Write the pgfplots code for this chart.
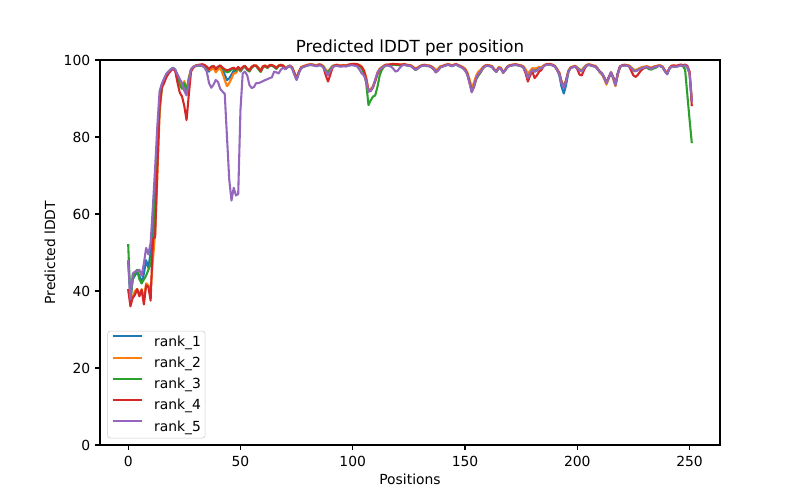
\documentclass[border=0pt]{standalone}
\usepackage{fontspec}
\setmainfont{DejaVu Sans}
\usepackage{pgfplots}
\usepackage{pgfplotstable}
\pgfplotsset{compat=1.18}
\definecolor{c0}{HTML}{1F77B4}
\definecolor{c1}{HTML}{FF7F0E}
\definecolor{c2}{HTML}{2CA02C}
\definecolor{c3}{HTML}{D62728}
\definecolor{c4}{HTML}{9467BD}
\pgfplotstableread{
x r1 r2 r3 r4 r5
0 47.5 40.5 52.2 40.5 48.0
1 38.0 37.0 37.5 36.0 37.8
2 43.0 38.5 43.0 38.2 44.5
3 44.0 40.0 44.8 39.0 45.0
4 45.0 40.5 45.5 40.5 45.2
5 44.0 39.0 43.0 38.6 45.5
6 42.0 40.5 42.0 40.3 44.0
7 44.5 38.0 43.0 36.5 47.2
8 48.0 42.0 44.0 41.5 51.2
9 46.0 41.5 45.5 41.0 49.5
10 50.0 40.0 47.0 37.5 52.5
11 56.0 48.0 52.0 53.5 62.0
12 66.0 55.0 62.0 54.0 72.0
13 78.0 70.0 76.0 72.0 83.0
14 89.0 86.0 88.0 88.0 92.0
15 93.5 92.5 93.0 93.0 93.8
16 95.0 94.5 95.0 94.0 95.2
17 96.2 96.0 96.3 95.5 96.4
18 96.9 96.8 97.0 96.5 97.0
19 97.5 97.4 97.6 97.2 97.6
20 97.9 97.8 98.0 97.8 97.9
21 97.3 97.2 97.5 97.0 97.4
22 95.8 96.0 95.5 94.0 96.2
23 94.0 94.5 93.5 91.5 95.0
24 93.0 93.0 92.5 90.5 94.0
25 94.0 94.5 94.0 88.0 92.0
26 91.5 92.0 92.0 84.4 90.8
27 95.0 95.5 95.0 91.0 94.5
28 97.5 97.6 97.4 97.0 97.6
29 98.2 98.3 98.1 98.0 98.2
30 98.5 98.6 98.4 98.5 98.5
31 98.6 98.7 98.6 98.7 98.6
32 98.6 98.7 98.5 98.8 98.6
33 98.7 98.8 98.6 98.9 98.5
34 98.4 98.6 98.5 98.7 98.0
35 97.6 98.2 98.0 98.3 97.0
36 97.0 97.5 97.8 97.6 94.0
37 98.0 97.4 98.3 98.2 92.8
38 98.2 98.0 98.4 98.5 93.6
39 97.5 96.8 97.8 97.6 94.8
40 98.0 97.5 98.2 98.3 94.3
41 98.3 98.0 98.5 98.6 92.5
42 97.5 96.5 97.8 98.0 91.8
43 96.2 94.8 97.2 97.6 91.2
44 94.8 93.2 96.8 97.3 80.0
45 95.2 94.0 97.0 97.5 69.0
46 96.2 95.2 97.5 97.8 63.5
47 97.2 96.5 97.8 98.0 66.8
48 96.8 96.6 97.2 97.5 64.8
49 97.8 97.8 98.0 98.2 65.2
50 97.0 97.2 97.3 97.5 87.0
51 97.8 98.0 98.0 98.2 96.5
52 98.3 98.4 98.3 98.5 97.0
53 97.6 97.8 97.4 97.7 96.0
54 97.2 97.5 97.0 97.3 93.5
55 98.1 98.3 98.0 98.2 92.7
56 98.5 98.6 98.4 98.6 93.0
57 98.5 98.6 98.4 98.5 94.0
58 97.8 98.0 97.6 97.9 94.0
59 97.0 97.4 96.9 97.1 94.2
60 98.2 98.4 98.1 98.3 94.5
61 98.5 98.6 98.4 98.5 94.8
62 98.0 98.2 97.9 98.1 95.0
63 98.6 98.7 98.5 98.6 95.3
64 98.6 98.7 98.5 98.7 95.5
65 98.3 98.4 98.2 98.4 97.0
66 97.8 98.0 97.7 97.9 96.8
67 98.5 98.6 98.4 98.5 96.5
68 98.7 98.8 98.6 98.7 97.5
69 98.5 98.6 98.4 98.5 98.0
70 97.8 98.0 97.7 97.8 97.6
71 98.2 98.3 98.1 98.2 98.2
72 98.5 98.6 98.4 98.5 98.5
73 98.0 98.2 97.9 98.0 97.8
74 96.5 96.8 96.4 96.6 96.2
75 95.0 95.4 94.9 95.0 94.8
76 96.8 97.0 96.7 96.8 96.6
77 98.0 98.2 97.9 98.0 97.9
78 98.3 98.4 98.2 98.3 98.2
79 98.5 98.6 98.4 98.5 98.4
80 98.7 98.8 98.6 98.7 98.6
81 98.8 98.9 98.7 98.8 98.7
82 98.8 98.9 98.7 98.8 98.7
83 98.6 98.7 98.5 98.6 98.5
84 98.5 98.6 98.4 98.5 98.4
85 98.8 98.9 98.7 98.8 98.6
86 98.7 98.8 98.6 98.7 98.5
87 98.2 98.4 98.2 98.0 98.0
88 97.0 97.5 97.2 96.0 97.0
89 96.5 97.0 96.8 94.4 96.0
90 97.5 97.8 97.6 96.2 97.2
91 98.4 98.5 98.3 98.0 98.2
92 98.6 98.7 98.5 98.6 98.4
93 98.7 98.8 98.6 98.7 98.5
94 98.5 98.6 98.4 98.5 98.3
95 98.5 98.6 98.4 98.5 98.3
96 98.6 98.7 98.5 98.6 98.4
97 98.5 98.6 98.4 98.5 98.3
98 98.7 98.8 98.6 98.7 98.5
99 98.8 98.9 98.7 98.9 98.6
100 98.9 99.0 98.8 99.0 98.6
101 98.9 99.0 98.8 99.0 98.5
102 98.8 98.9 98.7 98.9 98.3
103 98.5 98.7 98.4 98.6 97.5
104 98.0 98.3 97.8 98.2 96.5
105 97.0 97.4 96.5 97.2 96.0
106 95.0 95.5 94.0 95.0 94.5
107 92.0 92.3 88.3 91.8 91.8
108 92.2 92.5 89.5 92.0 92.0
109 93.0 93.2 90.5 92.8 93.0
110 94.6 94.8 90.8 94.5 94.8
111 96.5 96.8 93.0 96.3 96.6
112 97.5 97.8 96.0 97.4 97.6
113 98.0 98.2 97.5 98.0 98.0
114 98.5 98.6 98.3 98.5 98.4
115 98.7 98.8 98.6 98.8 98.6
116 98.7 98.8 98.6 98.8 98.5
117 98.8 98.9 98.7 98.9 98.3
118 98.9 99.0 98.8 99.0 97.8
119 98.8 98.9 98.7 98.9 97.0
120 98.8 98.9 98.7 98.9 97.2
121 98.7 98.8 98.6 98.8 98.0
122 98.8 98.9 98.7 98.8 98.6
123 98.9 99.0 98.8 98.9 98.7
124 98.7 98.8 98.6 98.7 98.6
125 98.6 98.7 98.5 98.6 98.5
126 98.5 98.6 98.4 98.5 98.4
127 98.0 98.2 97.9 98.0 97.9
128 97.5 97.8 97.4 97.6 97.4
129 97.9 98.1 97.8 97.9 97.8
130 98.4 98.5 98.3 98.4 98.3
131 98.6 98.7 98.5 98.6 98.5
132 98.7 98.8 98.6 98.7 98.6
133 98.5 98.6 98.4 98.5 98.4
134 98.5 98.6 98.4 98.5 98.4
135 98.2 98.4 98.1 98.2 98.1
136 97.8 98.0 97.7 97.6 97.7
137 97.0 97.3 96.9 96.8 96.8
138 97.5 97.8 97.4 97.3 97.3
139 98.2 98.4 98.1 98.1 98.1
140 98.4 98.5 98.3 98.4 98.3
141 98.6 98.7 98.5 98.6 98.5
142 98.8 98.9 98.7 98.8 98.7
143 98.8 98.9 98.7 98.8 98.7
144 98.5 98.6 98.4 98.5 98.4
145 98.7 98.8 98.6 98.7 98.6
146 98.9 99.0 98.8 98.9 98.8
147 98.6 98.7 98.5 98.6 98.5
148 98.3 98.5 98.2 98.3 98.2
149 98.0 98.2 97.9 98.0 97.9
150 97.5 97.8 97.4 97.5 97.3
151 96.5 96.9 96.4 96.4 96.2
152 94.5 95.0 94.3 94.2 94.0
153 92.2 92.8 92.0 91.8 91.6
154 93.6 94.2 93.2 93.0 93.2
155 95.6 96.0 95.0 95.2 95.3
156 96.6 97.0 96.0 96.4 96.5
157 97.1 97.5 96.8 97.0 97.0
158 98.0 98.2 97.8 98.0 97.9
159 98.5 98.6 98.4 98.5 98.4
160 98.6 98.7 98.5 98.6 98.5
161 98.5 98.6 98.4 98.5 98.4
162 98.3 98.4 98.2 98.3 98.2
163 97.5 97.6 97.4 97.5 97.4
164 97.0 97.2 96.9 97.0 96.9
165 98.0 98.2 97.9 98.0 97.9
166 97.8 98.0 97.7 97.8 97.7
167 96.8 96.6 96.7 96.8 96.7
168 97.5 97.6 97.4 97.5 97.4
169 98.3 98.4 98.2 98.3 98.2
170 98.6 98.7 98.5 98.6 98.5
171 98.7 98.8 98.6 98.7 98.6
172 98.8 98.9 98.7 98.8 98.7
173 98.8 98.9 98.7 98.8 98.7
174 98.6 98.7 98.5 98.6 98.5
175 98.5 98.6 98.4 98.5 98.4
176 98.2 98.4 98.1 98.1 98.1
177 97.2 97.6 96.8 96.5 97.0
178 96.0 96.5 95.0 94.4 95.3
179 96.8 97.2 96.5 96.0 96.5
180 97.6 97.9 97.4 97.0 97.4
181 97.4 97.8 97.0 95.3 97.0
182 97.5 97.9 97.3 96.0 97.2
183 98.0 98.2 97.9 97.0 97.9
184 97.9 98.1 97.8 97.4 97.8
185 98.5 98.6 98.4 98.4 98.4
186 98.8 98.9 98.7 98.8 98.7
187 98.9 99.0 98.8 98.9 98.8
188 98.9 99.0 98.8 98.9 98.8
189 98.7 98.8 98.6 98.7 98.6
190 98.4 98.5 98.3 98.4 98.3
191 97.5 97.7 97.4 97.5 97.4
192 96.0 96.8 96.5 96.5 96.4
193 93.0 94.5 94.2 94.2 94.0
194 91.3 93.2 93.0 93.0 92.8
195 93.5 94.8 94.6 94.6 94.4
196 96.8 97.2 97.0 97.0 96.9
197 98.0 98.1 97.9 98.0 97.9
198 98.2 98.3 98.1 98.2 98.1
199 98.4 98.5 98.3 98.4 98.3
200 98.0 98.1 97.9 97.6 97.9
201 97.5 97.6 97.4 96.2 97.3
202 97.2 97.4 97.1 96.0 97.0
203 98.0 98.1 97.9 97.4 97.9
204 98.6 98.7 98.5 98.5 98.5
205 98.8 98.9 98.7 98.8 98.7
206 98.7 98.8 98.6 98.7 98.6
207 98.5 98.6 98.4 98.5 98.4
208 98.4 98.5 98.3 98.4 98.3
209 97.8 97.8 97.7 97.8 97.7
210 97.0 96.8 96.9 97.0 96.9
211 96.5 96.2 96.4 96.5 96.4
212 95.5 95.0 95.4 95.5 95.4
213 94.2 93.6 94.0 94.1 94.0
214 95.5 95.2 95.4 95.5 95.4
215 96.8 96.7 96.7 96.8 96.7
216 95.5 95.0 95.4 95.5 95.4
217 93.6 93.2 93.5 93.6 93.5
218 96.5 96.0 96.4 96.5 96.4
219 98.3 98.2 98.2 98.3 98.2
220 98.6 98.7 98.5 98.6 98.5
221 98.7 98.8 98.6 98.7 98.6
222 98.6 98.7 98.5 98.6 98.5
223 98.5 98.6 98.4 98.4 98.4
224 98.0 98.2 97.9 97.2 97.9
225 97.4 97.6 97.3 96.0 97.2
226 97.2 97.4 97.1 95.6 97.1
227 97.5 97.7 97.4 96.2 97.4
228 97.8 98.0 97.7 97.0 97.7
229 98.0 98.2 97.9 97.6 97.9
230 98.2 98.3 98.0 98.0 98.1
231 98.3 98.4 98.0 98.2 98.2
232 98.0 98.2 97.6 98.0 97.9
233 97.8 98.0 97.5 97.8 97.7
234 98.2 98.3 97.8 98.2 98.1
235 98.3 98.4 98.0 98.3 98.2
236 98.5 98.6 98.4 98.5 98.4
237 98.5 98.6 98.4 98.5 98.4
238 98.2 98.3 98.1 98.1 98.1
239 97.2 97.4 97.1 97.2 97.1
240 96.4 96.6 96.3 96.4 96.3
241 97.8 97.9 97.7 97.8 97.7
242 98.4 98.5 98.3 98.5 98.3
243 98.4 98.5 98.3 98.6 98.3
244 98.3 98.4 98.2 98.5 98.2
245 98.5 98.6 98.4 98.6 98.4
246 98.7 98.8 98.6 98.8 98.6
247 98.5 98.6 98.4 98.7 98.5
248 98.6 98.7 97.5 98.8 98.6
249 98.0 98.2 91.0 98.5 98.2
250 96.5 96.8 84.5 97.0 96.5
251 89.5 90.0 78.4 88.0 89.2
}\data
\begin{document}
\begin{tikzpicture}
\path[use as bounding box] (0,0) rectangle (576pt,360pt);
\begin{axis}[
  at={(72pt,39.6pt)}, anchor=south west,
  width=446.4pt, height=277.2pt, scale only axis,
  xmin=-12.55, xmax=263.55, ymin=0, ymax=100,
  xtick={0,50,...,250}, ytick={0,20,...,100},
  xtick pos=bottom, ytick pos=left,
  tick align=outside, major tick length=3.5pt,
  every tick/.style={black, line width=0.8pt},
  axis line style={line width=0.8pt},
  /pgf/number format/assume math mode=true,
  ticklabel style={font=\fontsize{10}{12}\selectfont},
  xticklabel style={yshift=-1pt},
  title={Predicted lDDT per position},
  title style={at={(axis description cs:0.5,1)}, anchor=south, yshift=-6.6pt, font=\fontsize{12}{14}\selectfont},
  xlabel={Positions},
  xlabel style={at={(axis description cs:0.5,-0.0635)}, anchor=north, font=\fontsize{10}{12}\selectfont},
  ylabel={Predicted lDDT},
  ylabel style={at={(axis description cs:-0.064,0.5)}, anchor=south, font=\fontsize{10}{12}\selectfont},
  legend cell align=left,
  legend style={at={(0.0118,0.0174)}, anchor=south west, draw=black!20, rounded corners=2pt,
    fill=white, fill opacity=0.8, text opacity=1, draw opacity=1,
    font=\fontsize{10}{12}\selectfont, inner sep=3pt, row sep=5.5pt,
    nodes={inner sep=0pt, text height=7.5pt, text depth=2pt},
    /tikz/every odd column/.append style={column sep=8pt}},
  legend image code/.code={\draw[#1, line width=1.5pt] (0pt,4.3pt) -- (21pt,4.3pt);},
  every axis plot/.append style={line width=1.5pt, line join=round},
]
\addplot[c0, no markers] table[x=x, y=r1] {\data};
\addplot[c1, no markers] table[x=x, y=r2] {\data};
\addplot[c2, no markers] table[x=x, y=r3] {\data};
\addplot[c3, no markers] table[x=x, y=r4] {\data};
\addplot[c4, no markers] table[x=x, y=r5] {\data};
\legend{rank\_1,rank\_2,rank\_3,rank\_4,rank\_5}
\end{axis}
\end{tikzpicture}
\end{document}
